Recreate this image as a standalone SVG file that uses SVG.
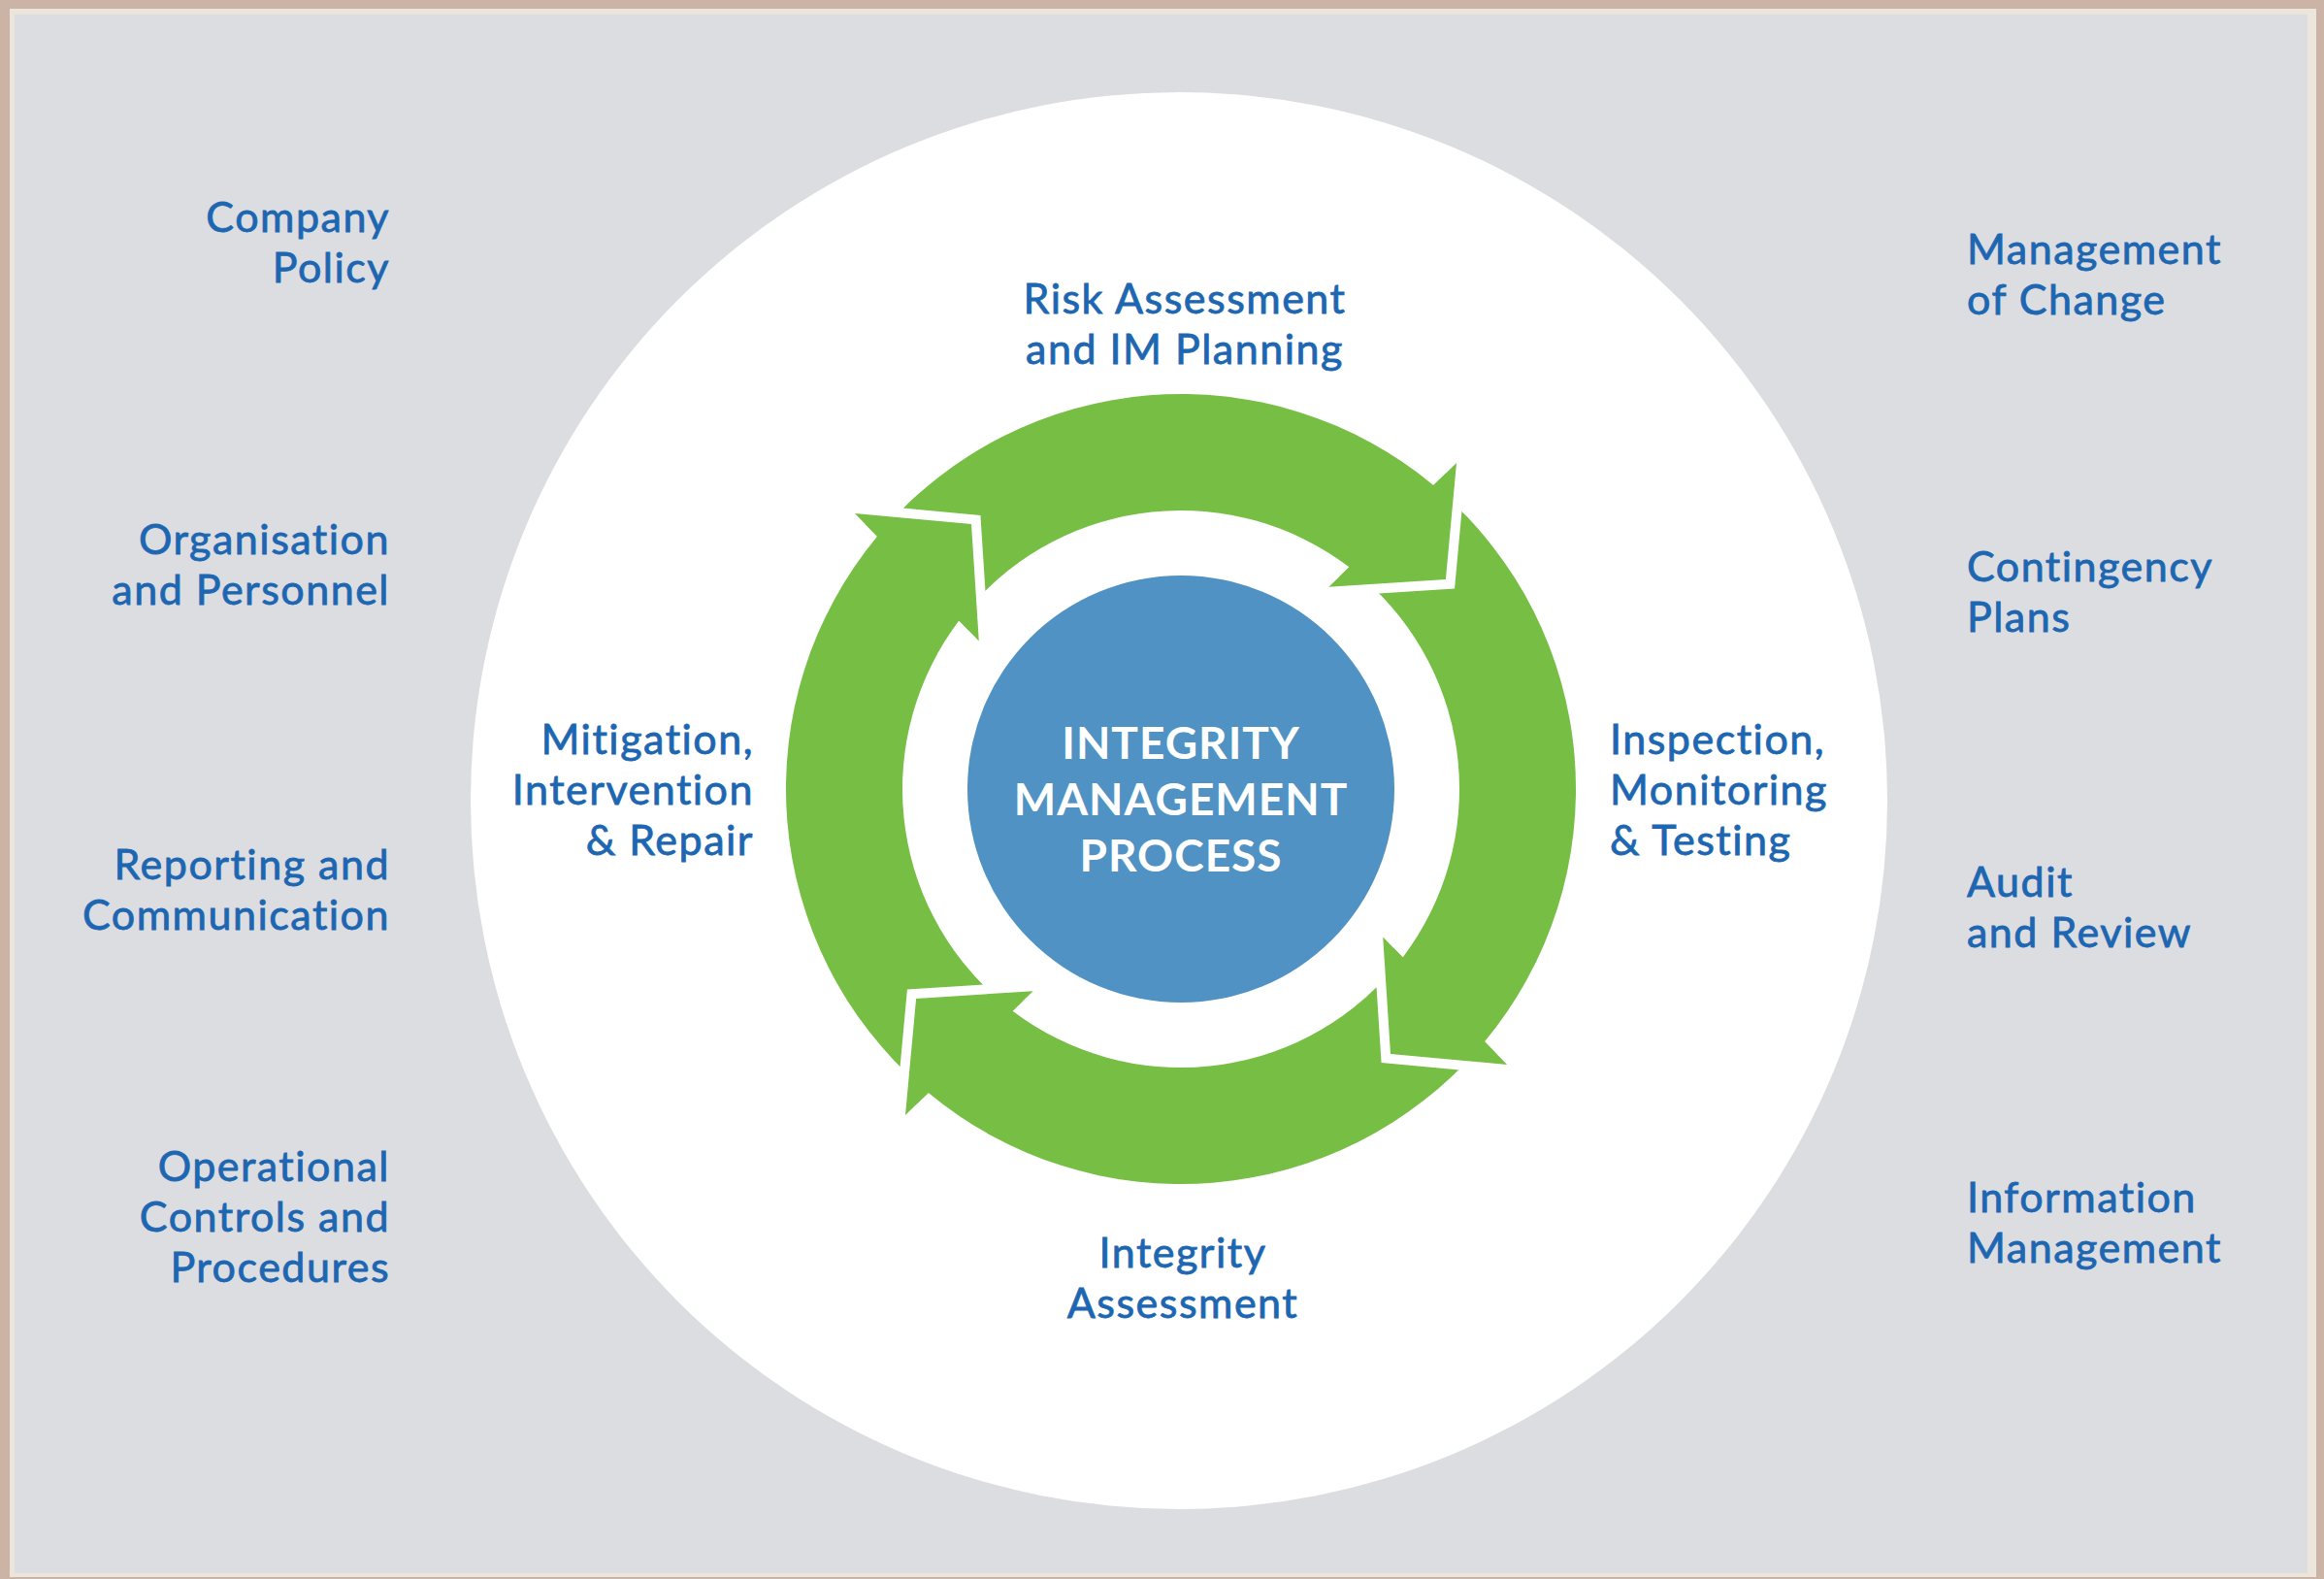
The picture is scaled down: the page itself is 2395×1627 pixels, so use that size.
<svg xmlns="http://www.w3.org/2000/svg" width="2395" height="1627" viewBox="0 0 2395 1627">
  <style>
    .lbl { font-family: Lato, "Open Sans", "Liberation Sans", sans-serif; font-size: 43px; font-weight: 400; letter-spacing: 1.5px; fill: #1d66b1; stroke: #1d66b1; stroke-width: 0.8px; }
    .end { text-anchor: end; }
    .mid { text-anchor: middle; }
    .core { font-family: Lato, "Open Sans", "Liberation Sans", sans-serif; font-size: 46px; font-weight: 700; letter-spacing: 1px; fill: #ffffff; text-anchor: middle; }
    .green { fill: #77bf44; }
    .gap { fill: none; stroke: #ffffff; stroke-width: 20; stroke-linejoin: miter; stroke-miterlimit: 10; }
  </style>
  <defs>
    <path id="arrowBody" d="M 950.0 1120.2 A 407 407 0 0 1 904.0 552.8 L 880.9 529.0 L 1001.0 540.1 L 1008.8 660.6 L 988.3 639.6 A 287 287 0 0 0 1028.7 1029.6 Z"/>
    <path id="headEdge" d="M 880.9 529.0 L 1001.0 540.1 L 1008.8 660.6"/>
    <path id="head" d="M 880.9 529.0 L 1001.0 540.1 L 1008.8 660.6 Z"/>
  </defs>

  <!-- frame and background -->
  <rect x="0" y="0" width="2395" height="1627" fill="#cbb3a5"/>
  <rect x="10" y="9" width="2377" height="1616" fill="#ebe5dc"/>
  <rect x="15" y="15" width="2363" height="1606" fill="#dcdde1"/>

  <!-- white disc -->
  <circle cx="1215" cy="825" r="730" fill="#ffffff"/>

  <!-- cycle arrows (connectors) -->
  <g id="connectors">
    <g class="green">
      <use href="#arrowBody" transform="rotate(90 1217 813)"/>
      <use href="#arrowBody" transform="rotate(180 1217 813)"/>
      <use href="#arrowBody" transform="rotate(270 1217 813)"/>
      <use href="#arrowBody"/>
    </g>
    <g id="head-top">
      <use href="#headEdge" class="gap" transform="rotate(90 1217 813)"/>
      <use href="#head" class="green" transform="rotate(90 1217 813)"/>
    </g>
    <g id="head-right">
      <use href="#headEdge" class="gap" transform="rotate(180 1217 813)"/>
      <use href="#head" class="green" transform="rotate(180 1217 813)"/>
    </g>
    <g id="head-bottom">
      <use href="#headEdge" class="gap" transform="rotate(270 1217 813)"/>
      <use href="#head" class="green" transform="rotate(270 1217 813)"/>
    </g>
    <g id="head-left">
      <use href="#headEdge" class="gap"/>
      <use href="#head" class="green"/>
    </g>
  </g>

  <!-- centre node -->
  <g id="node-core">
    <circle cx="1217" cy="813" r="220" fill="#4f92c3"/>
    <text class="core" x="1217" y="782">INTEGRITY<tspan x="1217" dy="58">MANAGEMENT</tspan><tspan x="1217" dy="58">PROCESS</tspan></text>
  </g>

  <!-- cycle stages -->
  <g id="node-risk">
    <text class="lbl mid" x="1221" y="323">Risk Assessment<tspan x="1221" dy="52">and IM Planning</tspan></text>
  </g>
  <g id="node-inspection">
    <text class="lbl" x="1659" y="777">Inspection,<tspan x="1659" dy="52">Monitoring</tspan><tspan x="1659" dy="52">&amp; Testing</tspan></text>
  </g>
  <g id="node-integrity">
    <text class="lbl mid" x="1219" y="1306">Integrity<tspan x="1219" dy="52">Assessment</tspan></text>
  </g>
  <g id="node-mitigation">
    <text class="lbl end" x="777" y="777">Mitigation,<tspan x="777" dy="52">Intervention</tspan><tspan x="777" dy="52">&amp; Repair</tspan></text>
  </g>

  <!-- left column -->
  <g id="node-company-policy">
    <text class="lbl end" x="402" y="239">Company<tspan x="402" dy="52">Policy</tspan></text>
  </g>
  <g id="node-organisation">
    <text class="lbl end" x="402" y="571">Organisation<tspan x="402" dy="52">and Personnel</tspan></text>
  </g>
  <g id="node-reporting">
    <text class="lbl end" x="402" y="906">Reporting and<tspan x="402" dy="52">Communication</tspan></text>
  </g>
  <g id="node-operational">
    <text class="lbl end" x="402" y="1217">Operational<tspan x="402" dy="52">Controls and</tspan><tspan x="402" dy="52">Procedures</tspan></text>
  </g>

  <!-- right column -->
  <g id="node-moc">
    <text class="lbl" x="2027" y="272">Management<tspan x="2027" dy="52">of Change</tspan></text>
  </g>
  <g id="node-contingency">
    <text class="lbl" x="2027" y="599">Contingency<tspan x="2027" dy="52">Plans</tspan></text>
  </g>
  <g id="node-audit">
    <text class="lbl" x="2027" y="924">Audit<tspan x="2027" dy="52">and Review</tspan></text>
  </g>
  <g id="node-information">
    <text class="lbl" x="2027" y="1249">Information<tspan x="2027" dy="52">Management</tspan></text>
  </g>
</svg>
